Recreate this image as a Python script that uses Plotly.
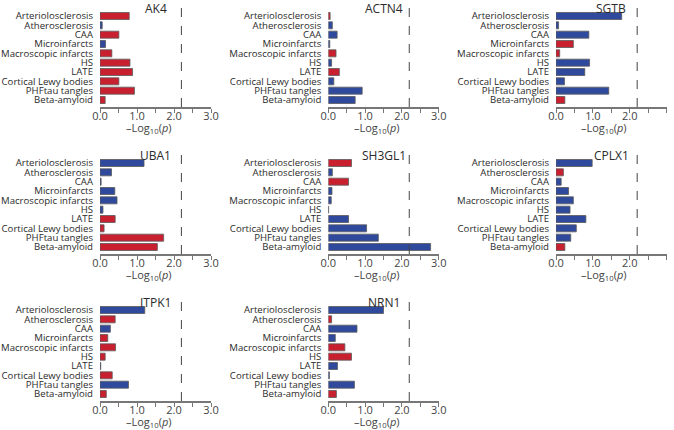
import plotly.graph_objects as go

categories = ["Arteriolosclerosis", "Atherosclerosis", "CAA", "Microinfarcts",
              "Macroscopic infarcts", "HS", "LATE", "Cortical Lewy bodies",
              "PHFtau tangles", "Beta-amyloid"]

genes = ["AK4", "ACTN4", "SGTB", "UBA1", "SH3GL1", "CPLX1", "ITPK1", "NRN1"]

ak4_vals = [0.79, 0.06, 0.51, 0.15, 0.32, 0.81, 0.88, 0.51, 0.93, 0.14]
ak4_dir = ["R", "B", "R", "B", "R", "R", "R", "R", "R", "R"]
actn4_vals = [0.05, 0.11, 0.24, 0.04, 0.21, 0.09, 0.30, 0.15, 0.92, 0.73]
actn4_dir = ["R", "B", "B", "B", "R", "B", "R", "B", "B", "B"]
sgtb_vals = [1.78, 0.07, 0.89, 0.47, 0.10, 0.91, 0.78, 0.23, 1.43, 0.24]
sgtb_dir = ["B", "B", "B", "R", "R", "B", "B", "B", "B", "R"]
uba1_vals = [1.19, 0.31, 0.03, 0.40, 0.46, 0.08, 0.41, 0.11, 1.72, 1.55]
uba1_dir = ["B", "B", "B", "B", "B", "B", "R", "R", "R", "R"]
sh3gl1_vals = [0.63, 0.11, 0.55, 0.10, 0.08, 0.01, 0.55, 1.04, 1.36, 2.78]
sh3gl1_dir = ["R", "B", "R", "B", "B", "B", "B", "B", "B", "B"]
cplx1_vals = [0.98, 0.20, 0.14, 0.34, 0.47, 0.38, 0.81, 0.55, 0.40, 0.24]
cplx1_dir = ["B", "R", "B", "B", "B", "B", "B", "B", "B", "R"]
itpk1_vals = [1.21, 0.41, 0.28, 0.21, 0.42, 0.14, 0.02, 0.33, 0.77, 0.17]
itpk1_dir = ["B", "R", "B", "R", "R", "R", "B", "R", "B", "R"]
nrn1_vals = [1.50, 0.09, 0.78, 0.19, 0.45, 0.63, 0.25, 0.03, 0.71, 0.22]
nrn1_dir = ["B", "R", "B", "B", "R", "R", "B", "B", "B", "R"]

threshold = 2.2
x_tick_vals = [0, 1, 2, 3]
x_tick_text = ["0.0", "1.0", "2.0", "3.0"]
x_title = "\u2013Log<sub>10</sub>(<i>p</i>)"

panel_vals = [ak4_vals, actn4_vals, sgtb_vals, uba1_vals, sh3gl1_vals,
              cplx1_vals, itpk1_vals, nrn1_vals]
panel_dirs = [ak4_dir, actn4_dir, sgtb_dir, uba1_dir, sh3gl1_dir,
              cplx1_dir, itpk1_dir, nrn1_dir]

RED = "#C8202F"
BLUE = "#2F4A9C"
W, H = 674, 430

col_px = [(100, 211), (328.3, 438.7), (556, 666.7)]
row_top_px = [7.6, 154.6, 301.6]
row_h_px = 99.4

fig = go.Figure()
layout = dict(
    width=W, height=H, margin=dict(l=0, r=0, t=0, b=0, autoexpand=False),
    paper_bgcolor="white", plot_bgcolor="white", showlegend=False,
    bargap=0.25, font=dict(family="Open Sans", color="#2b2b2b", size=10),
)
shapes = []
annotations = []

for i, gene in enumerate(genes):
    r, c = divmod(i, 3)
    idx = "" if i == 0 else str(i + 1)
    xa, ya = "x" + idx, "y" + idx
    x0, x1 = col_px[c]
    top = row_top_px[r]
    bot = top + row_h_px
    colors = [RED if d == "R" else BLUE for d in panel_dirs[i]]
    fig.add_trace(go.Bar(
        x=panel_vals[i], y=categories, orientation="h",
        marker=dict(color=colors, line=dict(color="#5a5a5a", width=0.8)),
        xaxis=xa, yaxis=ya, hoverinfo="x+y",
    ))
    layout["xaxis" + idx] = dict(
        domain=[x0 / W, x1 / W], anchor=ya, range=[0, 3], automargin=False,
        tickmode="array", tickvals=x_tick_vals, ticktext=x_tick_text,
        ticks="outside", ticklen=4, tickwidth=1, tickcolor="#777777",
        minor=dict(tickmode="array", tickvals=[0.5, 1.5, 2.5], ticks="outside",
                   ticklen=4, tickwidth=1, tickcolor="#777777"),
        showline=True, linecolor="#777777", linewidth=1.5,
        showgrid=False, zeroline=False, ticklabelstandoff=-6,
        tickfont=dict(size=11, color="#444444"),
        fixedrange=True,
    )
    layout["yaxis" + idx] = dict(
        domain=[max(0, 1 - bot / H), min(1, 1 - top / H)], anchor=xa, automargin=False,
        type="category", range=[9.75, -0.9],
        tickmode="array", tickvals=categories, ticktext=categories,
        showline=False, showgrid=False, zeroline=False, ticks="",
        tickfont=dict(size=9.6, color="#2b2b2b"), ticklabelstandoff=6,
        fixedrange=True,
    )
    shapes.append(dict(type="line", xref=xa, yref=ya + " domain",
                       x0=threshold, x1=threshold, y0=0, y1=1,
                       line=dict(color="#444444", width=1, dash="dash")))
    annotations.append(dict(text=gene, xref="paper", yref="paper",
                            x=(x0 + x1) / 2 / W, y=1 - (top + 0.5) / H,
                            xanchor="center", yanchor="middle", showarrow=False,
                            font=dict(size=12, color="#2b2b2b")))
    annotations.append(dict(text=x_title, xref="paper", yref="paper",
                            x=((x0 + x1) / 2 - 7) / W, y=1 - (bot + 21) / H,
                            xanchor="center", yanchor="middle", showarrow=False,
                            font=dict(size=11, color="#444444")))

layout["shapes"] = shapes
layout["annotations"] = annotations
fig.update_layout(**layout)
fig.write_html("out.html", config={"displayModeBar": False},
               post_script="document.body.style.margin='0';"
                           "document.documentElement.style.margin='0';")
